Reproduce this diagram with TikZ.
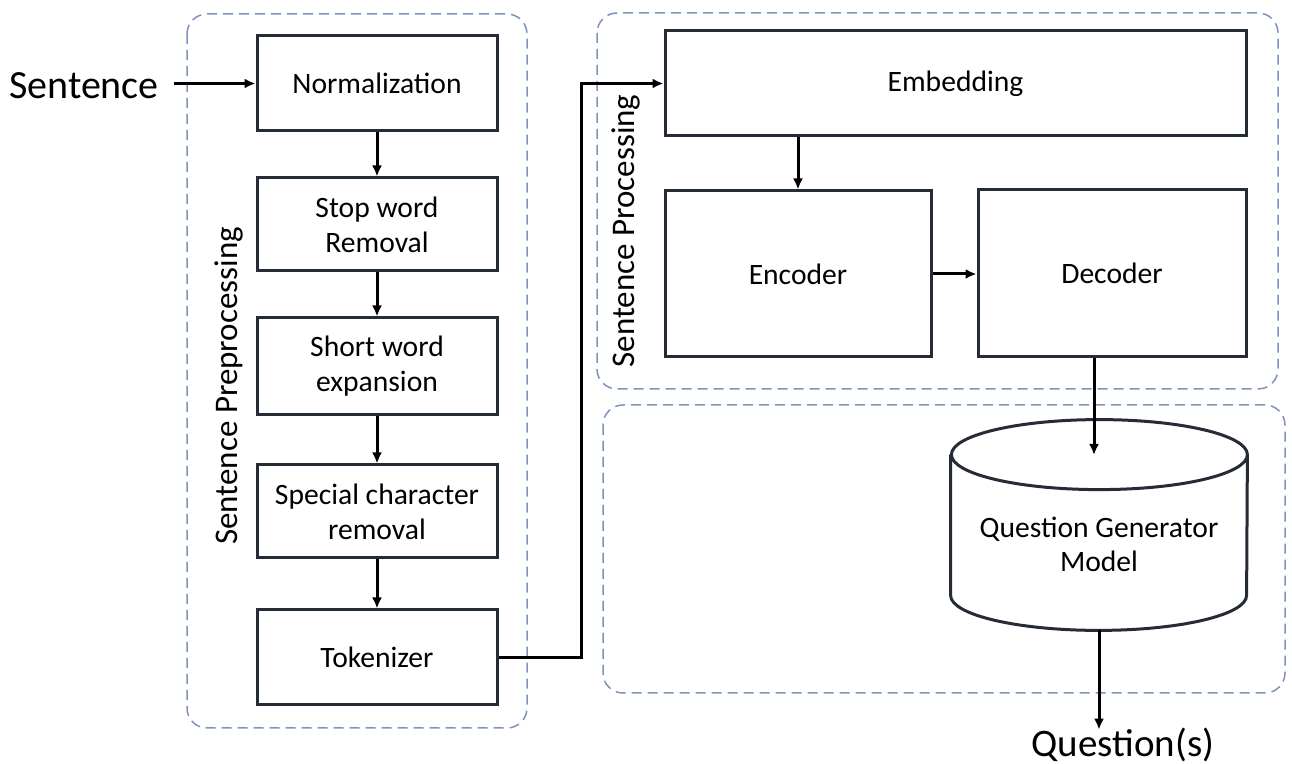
\documentclass[tikz,border=0pt]{standalone}
\usepackage{fontspec}
\setmainfont{Carlito}
\usetikzlibrary{arrows.meta}
\definecolor{boxline}{HTML}{262C35}
\definecolor{grpline}{HTML}{7D93BD}
\begin{document}
\begin{tikzpicture}[x=0.5pt,y=-0.5pt,
  stepbox/.style={draw=boxline,line width=1.5pt,fill=white,inner sep=0pt,align=center,
    font=\fontsize{14.8}{17.5}\selectfont},
  grp/.style={draw=grpline,line width=0.75pt,dash pattern=on 5pt off 3pt,rounded corners=10pt},
  arr/.style={line width=1.5pt,-{Latex[length=5.5pt,width=5pt]}},
  vlabel/.style={rotate=90,font=\fontsize{16.5}{18}\selectfont,inner sep=0pt}]
\useasboundingbox (0,0) rectangle (1292,764);
% groups
\draw[grp] (187,14) rectangle (527,728);
\draw[grp] (597,13) rectangle (1278,389);
\draw[grp] (603,405) rectangle (1285,693);
% left column
\node[stepbox,minimum width=120pt,minimum height=47.5pt] (norm) at (377,83.5) {Normalization};
\node[stepbox,minimum width=120pt,minimum height=46.5pt] (stop) at (377,224.5) {Stop word\\Removal};
\node[stepbox,minimum width=120pt,minimum height=48.5pt] (short) at (377,366.5) {Short word\\expansion};
\node[stepbox,minimum width=120pt,minimum height=46.5pt] (spec) at (377,511.5) {Special character\\removal};
\node[stepbox,minimum width=120pt,minimum height=47.5pt] (tok) at (377,657.5) {Tokenizer};
% right
\node[stepbox,minimum width=290.5pt,minimum height=52.5pt] (emb) at (955.5,83.5) {Embedding};
\node[stepbox,minimum width=133pt,minimum height=83pt] (enc) at (798,274) {Encoder};
\node[stepbox,minimum width=134pt,minimum height=83.5pt] (dec) at (1112,273.5) {Decoder};
% cylinder
\node[minimum width=148pt,minimum height=105pt,inner sep=0pt] (cyl) at (1099,525) {};
\draw[draw=boxline,line width=1.5pt,fill=white]
  ([yshift=-17.5pt]cyl.north west) -- ([yshift=17.5pt]cyl.south west)
  arc[start angle=180,end angle=360,x radius=74pt,y radius=17.5pt]
  -- ([yshift=-17.5pt]cyl.north east)
  arc[start angle=0,end angle=180,x radius=74pt,y radius=17.5pt]
  arc[start angle=180,end angle=360,x radius=74pt,y radius=17.5pt];
\node[align=center,font=\fontsize{14.8}{17}\selectfont] (cyltext) at (1099,544) {Question Generator\\Model};
% labels
\node[font=\fontsize{20}{24}\selectfont,inner sep=0pt] (sent) at (84,86) {Sentence};
\node[font=\fontsize{19.5}{22}\selectfont,inner sep=0pt] (quest) at (1123,745) {Question(s)};
\node[vlabel] (lab1) at (229,386) {Sentence Preprocessing};
\node[vlabel] (lab2) at (626,231) {Sentence Processing};
% connectors
\draw[arr] ([xshift=7.5pt]sent.east |- norm.west) -- (norm.west);
\draw[arr] (norm.south) -- (stop.north);
\draw[arr] (stop.south) -- (short.north);
\draw[arr] (short.south) -- (spec.north);
\draw[arr] (spec.south) -- (tok.north);
\draw[arr] (tok.east) -- ++(83,0) |- (emb.west);
\draw[arr] (emb.south -| enc.north) -- (enc.north);
\draw[arr] (enc.east) -- (dec.west |- enc.east);
\coordinate (cyltop) at (1094,455);
\draw[arr] (dec.south -| cyltop) -- (cyltop);
\draw[arr] (cyl.south) -- ([yshift=-1pt]cyl.south |- quest.north);
\end{tikzpicture}
\end{document}
